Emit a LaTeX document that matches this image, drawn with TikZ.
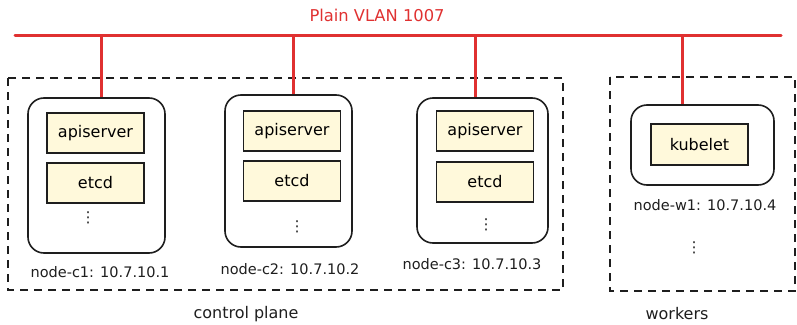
\documentclass[tikz,border=0pt]{standalone}
\usepackage{fontspec}
\setmainfont{DejaVu Sans}
\definecolor{vlanred}{HTML}{E03131}
\definecolor{ink}{HTML}{1E1E1E}
\definecolor{compfill}{HTML}{FFF9DB}
\begin{document}
\begin{tikzpicture}[x=1pt,y=-1pt,
  grp/.style={draw=ink,line width=1.5pt,dash pattern=on 8pt off 6pt},
  host/.style={draw=ink,line width=1.6pt,rounded corners=16pt,inner sep=0pt},
  comp/.style={draw=ink,fill=compfill,line width=1.6pt,minimum width=97pt,minimum height=40pt,inner sep=0pt,font=\fontsize{16}{19}\selectfont},
  lbl/.style={text=ink,font=\fontsize{14.5}{17}\selectfont,inner sep=0pt},
  grplbl/.style={text=ink,font=\fontsize{16}{19}\selectfont,inner sep=0pt},
  dots/.style={text=ink,font=\fontsize{15}{15}\selectfont,inner sep=0pt},
  wire/.style={draw=vlanred,line width=3pt,line cap=round}]
\useasboundingbox (0,0) rectangle (797,324);
% groups
\draw[grp] (8,78) rectangle (563,290);
\draw[grp] (610,77) rectangle (795,291);
\node[grplbl] (cpl) at (246,314) {control plane};
\node[grplbl] (wkl) at (677,314) {workers};
% title and bus
\node[text=vlanred,font=\fontsize{16.3}{19}\selectfont,inner sep=0pt] (title) at (377,15) {Plain VLAN 1007};
\coordinate (busL) at (15,35);
\coordinate (busR) at (781,35);
\draw[wire] (busL) -- (busR);
% hosts
\node[host,minimum width=137pt,minimum height=155pt] (c1) at (96.5,175.5) {};
\node[host,minimum width=127pt,minimum height=152pt] (c2) at (288.5,171) {};
\node[host,minimum width=131pt,minimum height=145pt] (c3) at (482.5,170.5) {};
\node[host,minimum width=143pt,minimum height=80pt] (w1) at (702.5,145) {};
% components
\node[comp] (a1) at (95.5,133) {apiserver};
\node[comp] (e1) at (95.5,183) {etcd};
\node[comp] (a2) at (292,131) {apiserver};
\node[comp] (e2) at (292,181) {etcd};
\node[comp] (a3) at (485,131) {apiserver};
\node[comp] (e3) at (485,182) {etcd};
\node[comp,minimum height=41pt] (k1) at (699.5,144.5) {kubelet};
% dots
\node[dots] (d1) at (88,218) {⋮};
\node[dots] (d2) at (297,227) {⋮};
\node[dots] (d3) at (486,225) {⋮};
\node[dots] (d4) at (694,248) {⋮};
% labels
\node[lbl] (l1) at (100,272) {node-c1: 10.7.10.1};
\node[lbl] (l2) at (290,269) {node-c2: 10.7.10.2};
\node[lbl] (l3) at (472,264) {node-c3: 10.7.10.3};
\node[lbl] (l4) at (705,205) {node-w1: 10.7.10.4};
% drops
\coordinate (t1) at (101,35);
\coordinate (t2) at (293,35);
\coordinate (t3) at (475,35);
\coordinate (t4) at (682,35);
\draw[wire,line cap=butt] (t1) -- (t1 |- c1.north);
\draw[wire,line cap=butt] (t2) -- (t2 |- c2.north);
\draw[wire,line cap=butt] (t3) -- (t3 |- c3.north);
\draw[wire,line cap=butt] (t4) -- (t4 |- w1.north);
\end{tikzpicture}
\end{document}
